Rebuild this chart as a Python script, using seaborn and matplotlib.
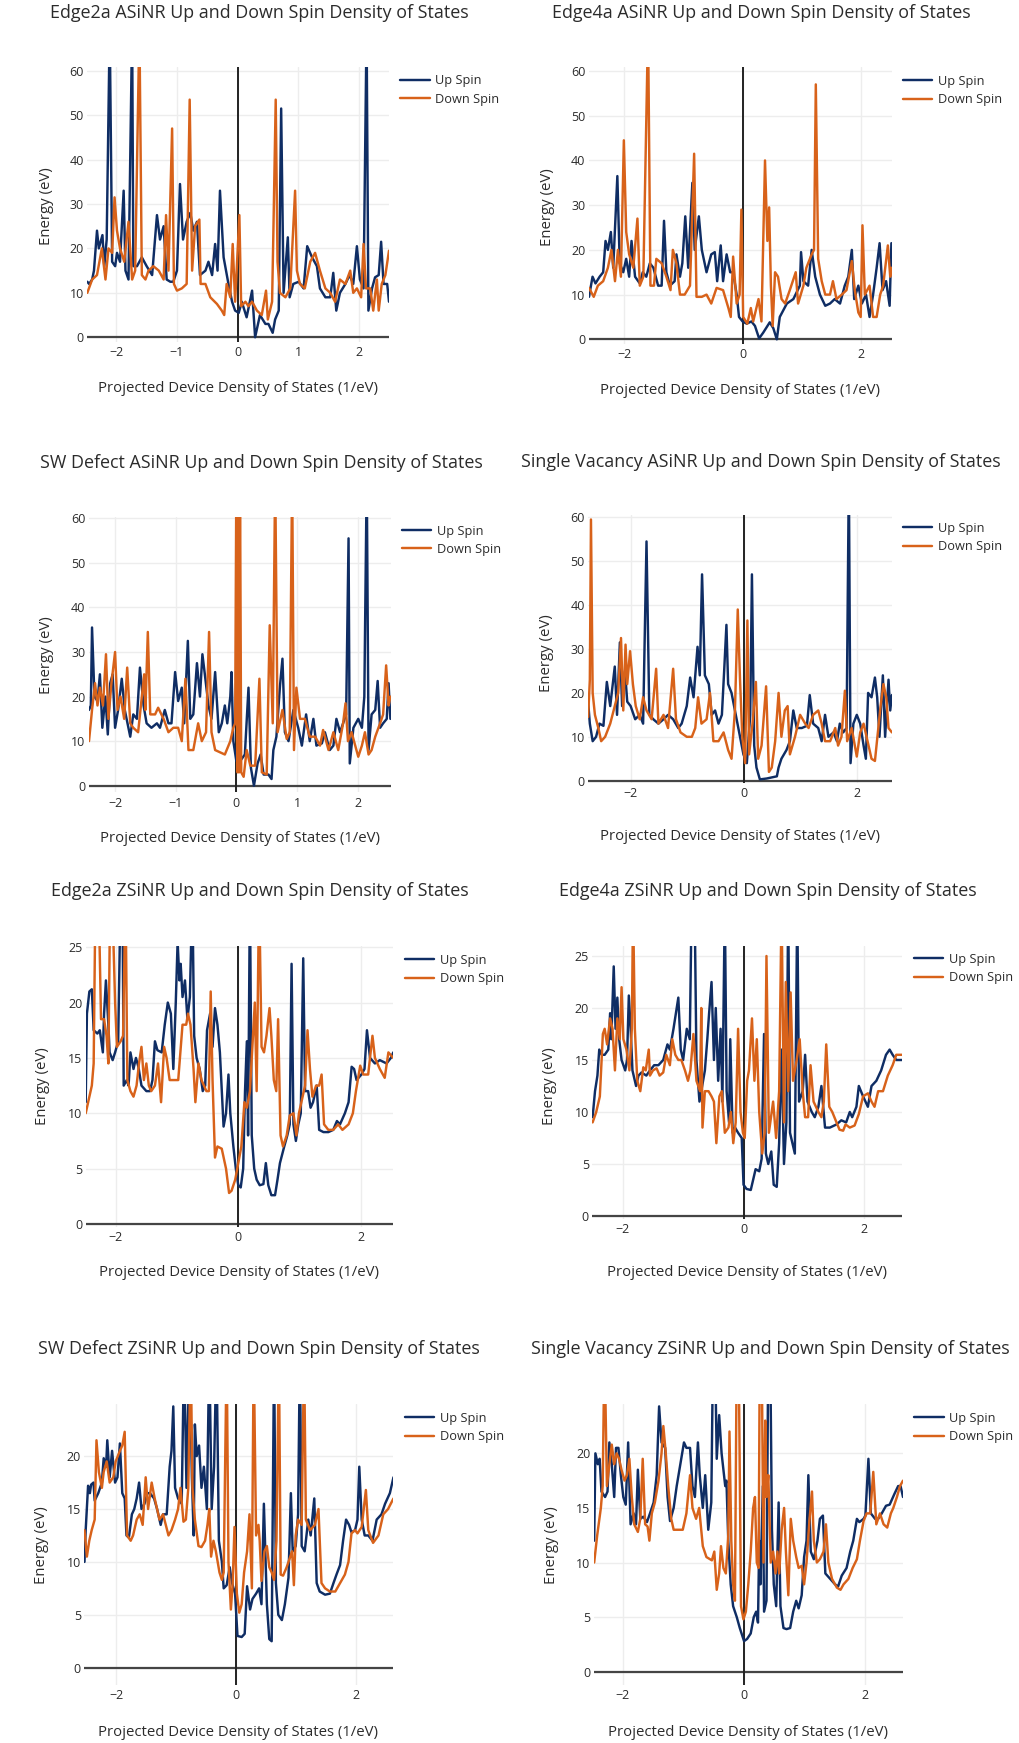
import matplotlib
matplotlib.use('Agg')
import matplotlib.pyplot as plt
import pandas as pd
import seaborn as sns

sns.set_style('white')
plt.rcParams['font.family'] = ['Open Sans', 'DejaVu Sans']
plt.rcParams['axes.unicode_minus'] = True

UP_COLOR = '#0f2d64'
DOWN_COLOR = '#d8621a'
TEXT = '#2b2b2b'
GRID = '#ededed'

titles = [
    'Edge2a ASiNR Up and Down Spin Density of States',
    'Edge4a ASiNR Up and Down Spin Density of States',
    'SW Defect ASiNR Up and Down Spin Density of States',
    'Single Vacancy ASiNR Up and Down Spin Density of States',
    'Edge2a ZSiNR Up and Down Spin Density of States',
    'Edge4a ZSiNR Up and Down Spin Density of States',
    'SW Defect ZSiNR Up and Down Spin Density of States',
    'Single Vacancy ZSiNR Up and Down Spin Density of States',
]
x_label = 'Projected Device Density of States (1/eV)'
y_label = 'Energy (eV)'
series_names = ['Up Spin', 'Down Spin']

# ---------------- data (x, y) ----------------
p1_up = [(-2.48,12.5),(-2.45,12),(-2.40,13),(-2.37,15),(-2.32,24),(-2.29,20),(-2.23,23),(-2.20,16),(-2.16,22),(-2.11,70),(-2.07,17),(-2.02,16),(-1.99,19),(-1.94,17),(-1.88,33),(-1.85,15),(-1.80,13),(-1.74,70),(-1.72,16),(-1.66,16),(-1.58,18),(-1.50,16),(-1.41,14),(-1.33,27.5),(-1.28,22),(-1.22,25),(-1.17,13),(-1.11,12.5),(-1.06,12.5),(-1.00,15),(-0.95,34.5),(-0.90,22),(-0.84,26),(-0.78,28),(-0.73,24),(-0.67,26),(-0.62,14),(-0.53,15),(-0.48,17),(-0.42,14),(-0.37,21),(-0.33,15),(-0.29,33),(-0.23,18),(-0.15,12),(-0.09,8),(-0.04,6),(0.02,5.5),(0.07,8),(0.15,4.5),(0.24,10.5),(0.29,0),(0.37,5),(0.46,3),(0.51,3),(0.58,1),(0.62,4),(0.68,6),(0.72,51.5),(0.76,10),(0.83,22.5),(0.86,9),(0.92,12),(1.01,12.5),(1.09,11),(1.15,20.5),(1.23,18),(1.31,16),(1.36,11),(1.45,9),(1.53,9),(1.58,14.5),(1.63,6),(1.69,10),(1.78,12),(1.85,14),(1.91,12),(1.97,20.5),(2.02,13),(2.08,11),(2.13,70),(2.16,6),(2.22,11),(2.27,13.5),(2.33,14),(2.37,21.5),(2.41,12),(2.47,12),(2.50,8)]
p1_down = [(-2.48,10),(-2.40,13),(-2.32,14),(-2.24,20),(-2.18,13),(-2.13,20),(-2.07,19),(-2.03,31.5),(-1.99,24),(-1.94,20),(-1.87,17),(-1.80,26),(-1.74,13),(-1.69,15),(-1.62,70),(-1.58,14),(-1.52,13),(-1.47,15),(-1.39,16),(-1.30,15),(-1.22,13),(-1.18,27.5),(-1.14,15),(-1.08,47),(-1.05,12),(-1.00,10.5),(-0.92,11),(-0.84,12),(-0.79,53.5),(-0.75,15),(-0.70,25),(-0.63,26.5),(-0.61,12),(-0.53,12),(-0.45,9),(-0.34,7.5),(-0.26,6),(-0.22,5),(-0.18,12),(-0.12,9),(-0.08,21),(-0.04,8),(0.03,27.5),(0.06,7),(0.13,8),(0.18,7),(0.24,8),(0.32,6),(0.40,5),(0.47,10.5),(0.50,4),(0.57,8),(0.59,22.5),(0.63,53.5),(0.66,17),(0.70,10),(0.79,9),(0.87,11),(0.95,33),(0.98,15),(1.03,12),(1.11,11),(1.20,17),(1.28,19),(1.36,15),(1.45,11),(1.53,10),(1.61,8),(1.69,13),(1.78,12),(1.86,15),(1.91,10),(1.97,11),(2.04,9),(2.08,21),(2.12,11),(2.19,11),(2.24,6),(2.30,13),(2.33,6),(2.38,12),(2.44,14),(2.50,19.5)]

p2_up = [(-2.60,9.5),(-2.54,14),(-2.49,12.5),(-2.42,14),(-2.36,15),(-2.32,22),(-2.28,20),(-2.23,24),(-2.19,16),(-2.12,36.5),(-2.08,17),(-2.02,15),(-1.97,18),(-1.92,14),(-1.88,22),(-1.82,14),(-1.74,12.5),(-1.69,15),(-1.63,14),(-1.57,17),(-1.51,16),(-1.43,12),(-1.37,12),(-1.33,26.5),(-1.29,15),(-1.23,12),(-1.15,13),(-1.12,19),(-1.06,14),(-1.02,17),(-0.97,27.5),(-0.92,16),(-0.85,35),(-0.81,20),(-0.74,27.5),(-0.69,20),(-0.61,15),(-0.53,19),(-0.47,19.5),(-0.43,13),(-0.37,21),(-0.33,13),(-0.27,19),(-0.21,15),(-0.16,15),(-0.10,10),(-0.06,5),(0.0,4),(0.07,3.5),(0.15,4),(0.21,3),(0.28,0.2),(0.35,1.5),(0.46,3.8),(0.52,2.5),(0.58,0),(0.63,5),(0.75,8),(0.86,9),(0.97,12),(0.99,19.5),(1.03,13),(1.11,12),(1.17,20),(1.23,14),(1.31,10),(1.40,7.5),(1.48,8),(1.56,9),(1.65,8),(1.73,12),(1.79,14),(1.85,20),(1.89,9),(1.96,12),(2.02,8),(2.09,10),(2.15,5),(2.21,10),(2.27,16),(2.32,21.5),(2.37,11),(2.43,13),(2.49,7.5),(2.52,21.5)]
p2_down = [(-2.60,11.5),(-2.52,9.5),(-2.45,12),(-2.36,13),(-2.28,16),(-2.22,20),(-2.16,13),(-2.11,20),(-2.06,14),(-2.01,44.5),(-1.97,24),(-1.92,19),(-1.85,16),(-1.78,27),(-1.74,12),(-1.68,14),(-1.60,70),(-1.56,12),(-1.50,12),(-1.46,18),(-1.37,17),(-1.29,14),(-1.22,11),(-1.18,20),(-1.12,17),(-1.06,10),(-0.98,10),(-0.89,12),(-0.82,41.5),(-0.78,9.5),(-0.69,9.5),(-0.61,10),(-0.53,8),(-0.44,11.5),(-0.33,11),(-0.24,7),(-0.20,5),(-0.16,18.5),(-0.10,8),(-0.05,10),(-0.02,29),(0.01,5),(0.08,3.5),(0.14,7),(0.18,4),(0.27,9),(0.32,4),(0.38,40),(0.42,22),(0.45,29.5),(0.48,12),(0.51,3),(0.55,15),(0.60,14),(0.66,9),(0.72,8),(0.80,11),(0.90,15),(0.94,8),(1.03,12),(1.08,16),(1.17,19),(1.21,20),(1.24,57),(1.28,18),(1.34,13),(1.40,10),(1.48,10),(1.53,13),(1.59,9),(1.68,10),(1.76,11),(1.85,17.5),(1.90,11),(1.96,6),(2.00,5),(2.03,25.5),(2.07,10),(2.15,12),(2.21,5),(2.27,5),(2.33,10),(2.38,12),(2.46,21),(2.50,14),(2.52,16)]

p3_up = [(-2.43,17),(-2.40,18),(-2.38,35.5),(-2.34,20),(-2.29,19),(-2.25,25),(-2.21,13),(-2.16,20),(-2.12,11.5),(-2.08,23),(-2.04,25),(-2.00,13),(-1.95,17),(-1.89,24),(-1.84,17),(-1.75,11),(-1.70,16),(-1.64,15),(-1.59,26.5),(-1.53,18),(-1.48,14),(-1.40,13),(-1.31,14),(-1.26,13),(-1.18,17),(-1.12,14),(-1.07,14),(-1.01,25.5),(-0.96,19),(-0.90,22),(-0.86,14),(-0.80,32.5),(-0.76,15),(-0.71,16),(-0.65,27.5),(-0.60,20),(-0.56,29.5),(-0.52,25),(-0.46,18),(-0.41,15),(-0.35,25.5),(-0.29,12),(-0.24,14),(-0.19,18),(-0.15,14),(-0.10,20),(-0.08,25.5),(-0.05,10),(0.0,5.5),(0.06,5.5),(0.14,7),(0.20,22),(0.24,4),(0.29,0),(0.35,5),(0.40,7),(0.45,2.5),(0.53,2.5),(0.58,1.5),(0.61,8),(0.66,11),(0.72,22.5),(0.76,28.5),(0.80,12),(0.86,10),(0.94,17),(1.02,13),(1.08,9),(1.15,16),(1.21,10),(1.27,15),(1.32,9),(1.41,9.5),(1.46,12),(1.54,8),(1.60,9),(1.65,15),(1.71,12),(1.76,14),(1.81,16),(1.85,55.5),(1.87,5),(1.93,13),(2.01,15),(2.07,13),(2.11,20),(2.15,70),(2.18,8),(2.23,16),(2.29,17),(2.33,23.5),(2.37,13),(2.42,14),(2.48,15),(2.51,23),(2.54,15)]
p3_down = [(-2.43,10),(-2.38,17),(-2.33,23),(-2.29,18),(-2.25,22),(-2.20,18),(-2.15,29.5),(-2.11,15),(-2.06,23),(-2.00,30),(-1.96,17),(-1.91,20),(-1.85,15),(-1.80,26.5),(-1.75,14),(-1.70,13),(-1.62,12),(-1.52,25),(-1.50,17),(-1.46,34.5),(-1.42,16),(-1.34,16),(-1.29,17.5),(-1.20,15),(-1.12,12),(-1.04,13),(-0.96,13),(-0.90,10),(-0.84,24),(-0.79,8),(-0.71,8),(-0.63,14),(-0.57,10),(-0.50,12),(-0.45,34.5),(-0.41,12),(-0.35,8),(-0.27,7.5),(-0.19,7),(-0.10,10),(-0.05,13),(-0.02,14),(0.00,70),(0.02,3),(0.03,70),(0.045,3),(0.06,70),(0.08,3),(0.12,2),(0.17,8),(0.23,4.5),(0.31,4.5),(0.38,24),(0.42,3),(0.50,2.5),(0.55,36),(0.60,14),(0.64,70),(0.68,12),(0.76,17),(0.83,10.5),(0.88,12),(0.92,70),(0.95,8),(0.99,22),(1.05,15),(1.13,15),(1.21,11),(1.30,11),(1.38,9),(1.43,12.5),(1.52,8),(1.60,12),(1.68,8),(1.76,14),(1.80,18.5),(1.84,10),(1.90,12),(1.96,9),(2.01,6.5),(2.07,9),(2.12,12),(2.18,7),(2.23,8),(2.29,11),(2.37,14),(2.42,16),(2.47,27),(2.51,18),(2.54,20)]

p4_up = [(-2.75,18),(-2.72,13),(-2.67,9),(-2.61,10),(-2.55,13),(-2.48,12.5),(-2.42,22.5),(-2.36,17),(-2.28,26),(-2.24,15),(-2.19,31.5),(-2.15,17),(-2.10,25),(-2.06,18),(-2.00,17),(-1.92,14),(-1.84,15),(-1.78,13),(-1.72,54.5),(-1.67,15),(-1.60,14),(-1.51,13),(-1.42,14),(-1.34,15),(-1.25,14),(-1.16,12),(-1.10,13),(-1.01,17),(-0.95,23.5),(-0.89,19),(-0.82,30.5),(-0.78,24),(-0.74,47),(-0.69,24),(-0.62,22),(-0.57,15),(-0.51,16),(-0.45,13),(-0.39,15),(-0.35,25),(-0.31,35.5),(-0.28,22),(-0.22,20),(-0.13,14),(-0.07,10),(-0.01,6),(0.05,4),(0.11,15),(0.14,47),(0.18,8),(0.22,3),(0.28,0.3),(0.40,0.5),(0.58,1),(0.61,3),(0.66,5),(0.75,7),(0.81,9),(0.87,16),(0.93,12),(1.02,12),(1.11,12.5),(1.16,19.5),(1.22,13),(1.31,12),(1.37,9),(1.43,15),(1.49,10),(1.58,11),(1.64,9),(1.69,13),(1.75,11),(1.81,12),(1.85,70),(1.88,4),(1.93,13),(1.99,15),(2.05,13),(2.11,8),(2.15,5),(2.19,20),(2.25,19),(2.31,23.5),(2.35,19),(2.39,10),(2.45,24),(2.49,10),(2.55,23),(2.58,16),(2.61,19.5)]
p4_down = [(-2.75,14.5),(-2.72,23),(-2.70,59.5),(-2.67,20),(-2.63,15),(-2.57,12),(-2.52,9),(-2.45,10),(-2.36,13),(-2.28,17),(-2.22,20),(-2.17,32.5),(-2.13,16),(-2.09,31),(-2.06,22),(-2.01,29.5),(-1.96,22),(-1.91,17),(-1.84,14),(-1.78,19),(-1.72,16),(-1.63,14),(-1.55,25.5),(-1.51,13),(-1.42,15),(-1.34,12),(-1.25,25.5),(-1.20,14),(-1.12,11),(-1.01,10),(-0.92,10),(-0.86,12),(-0.81,19),(-0.75,13),(-0.66,14),(-0.60,20),(-0.54,9),(-0.45,9),(-0.36,11),(-0.28,7),(-0.22,5),(-0.16,16),(-0.11,39),(-0.07,23),(-0.03,10),(0.02,4),(0.06,36.5),(0.09,6),(0.15,13),(0.21,22.5),(0.25,5),(0.31,8),(0.39,21.5),(0.44,2),(0.49,3),(0.55,9),(0.61,20),(0.66,10),(0.72,16),(0.77,17),(0.81,6),(0.90,10),(0.99,15),(1.08,13),(1.14,12),(1.22,15),(1.31,16),(1.37,13),(1.43,9),(1.52,9),(1.61,12),(1.66,8),(1.72,10),(1.78,20.5),(1.82,9),(1.90,12),(1.99,5.5),(2.05,11),(2.11,13),(2.18,9),(2.25,5),(2.31,4.5),(2.37,12),(2.41,17),(2.46,22),(2.51,19),(2.55,12),(2.61,11)]

p5_up = [(-2.49,11),(-2.47,19),(-2.43,21),(-2.39,21.2),(-2.36,17.5),(-2.30,17.2),(-2.26,17.5),(-2.21,15.5),(-2.19,19),(-2.16,22),(-2.12,18),(-2.10,15.5),(-2.05,14.8),(-2.01,15.5),(-1.96,16.5),(-1.92,30),(-1.89,30),(-1.87,12.5),(-1.82,13),(-1.79,12.5),(-1.76,15.5),(-1.71,14),(-1.67,15),(-1.63,14.2),(-1.58,12.5),(-1.50,12),(-1.44,12),(-1.40,13),(-1.36,16.5),(-1.32,15.7),(-1.25,15.5),(-1.20,18),(-1.15,20),(-1.10,19),(-1.06,14),(-1.02,20),(-0.99,25.5),(-0.96,22),(-0.94,23.5),(-0.91,20.5),(-0.87,22),(-0.83,18.5),(-0.79,20.5),(-0.75,30),(-0.72,17),(-0.68,15),(-0.63,14),(-0.58,12),(-0.54,12.5),(-0.51,17.5),(-0.46,19),(-0.42,16),(-0.38,19.5),(-0.34,18),(-0.30,15.5),(-0.24,8.8),(-0.20,10),(-0.16,13.5),(-0.13,10),(-0.08,7),(-0.04,5),(0.0,3.5),(0.04,3.3),(0.08,5),(0.11,12),(0.14,16.5),(0.16,8),(0.19,30),(0.22,8),(0.26,5),(0.30,4),(0.35,3.5),(0.41,3.6),(0.45,5.5),(0.49,3.5),(0.54,2.6),(0.60,2.6),(0.64,4),(0.68,5.5),(0.75,7),(0.80,8),(0.84,9),(0.87,23.5),(0.90,9),(0.94,7.5),(0.98,9),(1.02,10),(1.06,24),(1.09,12),(1.14,12),(1.18,10.5),(1.22,11),(1.28,12.5),(1.32,8.5),(1.39,8.3),(1.47,8.3),(1.55,8.5),(1.61,9.3),(1.66,9),(1.74,10),(1.80,11),(1.85,14.2),(1.89,14),(1.93,13),(2.01,13.5),(2.06,14),(2.10,17.5),(2.15,15),(2.23,14.5),(2.31,14.8),(2.42,14.5),(2.49,15),(2.53,15.5)]
p5_down = [(-2.49,10),(-2.45,11),(-2.39,12.5),(-2.36,14.5),(-2.33,30),(-2.28,30),(-2.24,18.5),(-2.19,18.5),(-2.15,17),(-2.12,14.5),(-2.09,30),(-2.06,30),(-2.01,20),(-1.98,16),(-1.92,16.5),(-1.88,17),(-1.84,30),(-1.81,13),(-1.76,12),(-1.71,11.5),(-1.66,12.5),(-1.62,14.5),(-1.58,16),(-1.54,13),(-1.50,14.5),(-1.46,12.5),(-1.42,12),(-1.36,12.5),(-1.31,14.5),(-1.26,11),(-1.21,16),(-1.17,15),(-1.12,13),(-1.03,13),(-0.98,13),(-0.91,18),(-0.85,18),(-0.82,19),(-0.78,18),(-0.73,14),(-0.70,11),(-0.65,14.5),(-0.60,13),(-0.56,12.5),(-0.52,12),(-0.48,12),(-0.45,21),(-0.42,13),(-0.38,6),(-0.34,7),(-0.27,6.8),(-0.20,5),(-0.15,2.8),(-0.11,3),(-0.05,4),(0.0,5.5),(0.05,7),(0.10,11),(0.14,10.5),(0.19,12),(0.23,16),(0.27,20),(0.30,12),(0.34,30),(0.38,16),(0.42,15.5),(0.46,17),(0.51,19.5),(0.54,17),(0.58,13),(0.62,12),(0.65,18.5),(0.69,8),(0.73,7),(0.79,8),(0.84,9.8),(0.90,10),(0.95,8),(0.99,10),(1.03,11),(1.09,12.5),(1.13,17.5),(1.17,14),(1.21,11.5),(1.27,12.5),(1.32,12.5),(1.36,13.5),(1.40,9),(1.47,8.5),(1.55,8.5),(1.63,9),(1.70,8.5),(1.80,9),(1.87,10),(1.92,12),(1.99,14.3),(2.04,13.5),(2.12,13.5),(2.19,17),(2.23,15),(2.31,14),(2.39,13.2),(2.45,15.5),(2.53,15)]

p6_up = [(-2.50,9.5),(-2.46,12),(-2.42,13.5),(-2.39,16),(-2.35,15.5),(-2.30,15.5),(-2.24,16),(-2.21,19.5),(-2.19,17),(-2.15,24),(-2.12,18),(-2.09,21),(-2.06,17),(-2.02,15),(-1.96,14),(-1.93,15),(-1.90,21.2),(-1.87,18),(-1.84,14),(-1.78,12.5),(-1.74,13.5),(-1.69,13.8),(-1.61,13.5),(-1.55,14),(-1.48,14.5),(-1.41,14.5),(-1.33,15),(-1.26,16.5),(-1.22,16),(-1.16,18),(-1.12,19.5),(-1.08,21),(-1.04,16),(-1.00,15),(-0.94,18),(-0.89,17),(-0.86,30),(-0.81,30),(-0.78,15),(-0.73,11),(-0.70,12),(-0.64,14),(-0.60,17),(-0.57,19.5),(-0.53,22.5),(-0.49,15),(-0.46,20),(-0.42,13),(-0.38,18),(-0.35,11),(-0.31,30),(-0.28,12),(-0.24,9),(-0.22,17),(-0.18,8),(-0.14,8.5),(-0.09,8),(-0.03,7.5),(0.0,3),(0.05,2.6),(0.12,2.5),(0.16,3.5),(0.20,4.5),(0.26,4.3),(0.30,5.5),(0.34,17.5),(0.37,6),(0.41,5),(0.46,6.2),(0.50,3),(0.55,2.8),(0.59,7),(0.63,16),(0.67,5),(0.71,9),(0.74,30),(0.77,8),(0.81,7),(0.85,6),(0.89,30),(0.92,11),(0.98,12),(1.02,15.5),(1.06,11),(1.13,10),(1.18,9.5),(1.24,10.5),(1.29,12.5),(1.35,8.5),(1.43,8.5),(1.54,8.8),(1.62,9.2),(1.70,9.0),(1.76,10),(1.80,9.5),(1.87,10.5),(1.91,12.5),(1.98,11.5),(2.06,10.5),(2.12,12.5),(2.20,13),(2.28,14),(2.36,15.5),(2.42,16),(2.47,15.5),(2.53,15),(2.63,15)]
p6_down = [(-2.50,9),(-2.44,10),(-2.38,11.5),(-2.33,17.5),(-2.30,18),(-2.26,16.5),(-2.21,19),(-2.17,18),(-2.13,14),(-2.09,19),(-2.05,17),(-2.02,22),(-1.99,17),(-1.94,16),(-1.89,14),(-1.85,18),(-1.83,30),(-1.80,18),(-1.76,13),(-1.71,12),(-1.66,14.3),(-1.62,14),(-1.57,16),(-1.55,13.5),(-1.50,14),(-1.44,14.2),(-1.39,13.5),(-1.33,13.8),(-1.28,15.5),(-1.22,14.5),(-1.18,17),(-1.13,15.5),(-1.08,15),(-1.03,15),(-0.97,14),(-0.92,13),(-0.88,14),(-0.83,17.5),(-0.78,13),(-0.72,12),(-0.70,20),(-0.68,8.5),(-0.64,12),(-0.58,12),(-0.53,11.5),(-0.49,11),(-0.45,7),(-0.40,11.5),(-0.36,12),(-0.31,8),(-0.25,8.5),(-0.21,10),(-0.17,7),(-0.13,9),(-0.09,18),(-0.05,10),(-0.01,8),(0.02,7.5),(0.06,13),(0.09,14),(0.14,19),(0.18,13),(0.22,17),(0.26,10),(0.31,6),(0.35,8),(0.38,25),(0.42,8),(0.49,11),(0.54,7.5),(0.59,12),(0.63,30),(0.67,9),(0.70,22.5),(0.74,12),(0.78,21.5),(0.82,13),(0.88,15),(0.93,17),(0.98,12),(1.02,9.5),(1.07,9.5),(1.11,14.5),(1.16,11),(1.24,10),(1.29,9.5),(1.33,11),(1.37,16.5),(1.42,10.5),(1.47,10),(1.54,9),(1.59,8.3),(1.65,8.2),(1.69,8.8),(1.76,8.5),(1.84,8.7),(1.91,9.8),(1.98,11.5),(2.06,11.8),(2.12,11),(2.17,10.5),(2.23,12),(2.31,12),(2.39,13.5),(2.47,14.5),(2.53,15.5),(2.63,15.5)]

p7_up = [(-2.53,10),(-2.51,13),(-2.47,17.2),(-2.44,16.5),(-2.42,17.3),(-2.38,17.5),(-2.36,15.8),(-2.30,16.5),(-2.24,17.5),(-2.21,19.8),(-2.17,19),(-2.15,21.5),(-2.11,18),(-2.07,20.5),(-2.02,17.5),(-1.98,18),(-1.94,21.2),(-1.90,16.5),(-1.86,16),(-1.83,12.5),(-1.79,12.3),(-1.74,14.5),(-1.70,15),(-1.66,16),(-1.62,17.5),(-1.58,15),(-1.53,15.5),(-1.48,16.5),(-1.44,16.5),(-1.37,16),(-1.32,15),(-1.26,13.5),(-1.22,14.5),(-1.16,14.5),(-1.11,19),(-1.08,20.5),(-1.05,24.7),(-1.02,17),(-0.97,16),(-0.91,15.5),(-0.87,30),(-0.83,17),(-0.78,30),(-0.74,18),(-0.71,12.5),(-0.69,23),(-0.66,20),(-0.62,21),(-0.58,17),(-0.54,19),(-0.49,15),(-0.45,30),(-0.41,15),(-0.37,19),(-0.33,30),(-0.29,12),(-0.24,10),(-0.21,7.5),(-0.16,7.8),(-0.11,9.5),(-0.07,8),(-0.02,7),(0.02,3),(0.09,2.9),(0.14,3.2),(0.18,7.7),(0.23,5.5),(0.27,6.5),(0.33,7),(0.38,7.5),(0.42,6),(0.46,15.5),(0.51,6),(0.55,2.7),(0.59,2.5),(0.63,30),(0.66,8),(0.70,5),(0.76,4.5),(0.81,6),(0.87,8.5),(0.91,16.5),(0.94,11),(0.99,11.5),(1.03,14.5),(1.06,30),(1.09,11.5),(1.14,11),(1.20,14),(1.24,12.5),(1.30,16),(1.34,8),(1.39,7.2),(1.48,6.9),(1.56,7),(1.62,8),(1.67,8.8),(1.73,9.7),(1.78,12),(1.83,14),(1.88,13.5),(1.92,12.8),(1.98,13),(2.02,14),(2.05,19),(2.09,14),(2.14,12.5),(2.20,12.5),(2.27,12),(2.34,14),(2.42,14.5),(2.48,15.5),(2.56,16.5),(2.62,18)]
p7_down = [(-2.53,13),(-2.49,10.5),(-2.45,12),(-2.41,13),(-2.36,14),(-2.33,21.5),(-2.29,18.5),(-2.24,17),(-2.21,18.5),(-2.16,19.5),(-2.11,17.5),(-2.05,18),(-2.01,19.5),(-1.94,20.5),(-1.90,21),(-1.86,22.3),(-1.82,12.5),(-1.76,12),(-1.72,12.5),(-1.66,14),(-1.61,14.5),(-1.56,13.5),(-1.51,18),(-1.47,15),(-1.41,17.5),(-1.36,16),(-1.28,14),(-1.22,14.5),(-1.13,12.5),(-1.08,13),(-1.02,14),(-0.97,15),(-0.93,17),(-0.88,13.8),(-0.84,14),(-0.80,17),(-0.76,30),(-0.73,17),(-0.69,14),(-0.63,11.5),(-0.58,11.4),(-0.52,12),(-0.48,13.5),(-0.45,15),(-0.42,10.5),(-0.38,12),(-0.34,11),(-0.28,9),(-0.24,8.3),(-0.21,9),(-0.16,30),(-0.13,10),(-0.09,5.5),(-0.06,8),(-0.03,13.3),(0.01,7),(0.05,5.2),(0.09,6),(0.13,9),(0.18,11),(0.22,14.5),(0.26,7.5),(0.29,30),(0.33,12.5),(0.37,13.5),(0.39,12),(0.42,8.2),(0.47,11),(0.51,11.5),(0.55,9.5),(0.59,9),(0.63,8.3),(0.67,12),(0.71,30),(0.74,8.8),(0.78,8.7),(0.84,9.5),(0.90,10.5),(0.93,11),(0.96,7.8),(0.99,12.5),(1.03,14),(1.09,13.5),(1.13,30),(1.16,14),(1.23,13),(1.31,13.5),(1.37,15),(1.42,8),(1.48,7.5),(1.56,7.2),(1.65,7.2),(1.73,8),(1.81,8.8),(1.87,10),(1.92,12.7),(1.98,13),(2.02,12.7),(2.09,13.3),(2.16,16.8),(2.20,13),(2.28,11.8),(2.37,12.5),(2.45,14.5),(2.53,15),(2.62,16)]

p8_up = [(-2.47,12),(-2.45,20),(-2.41,19),(-2.38,19.5),(-2.35,16.5),(-2.29,16),(-2.25,16.5),(-2.22,21),(-2.18,19),(-2.14,16),(-2.11,20.5),(-2.07,20.5),(-2.03,18),(-1.99,16),(-1.95,15.3),(-1.91,21),(-1.87,13.5),(-1.82,14.5),(-1.78,13.5),(-1.75,18.5),(-1.71,14),(-1.66,14.2),(-1.60,13.7),(-1.55,14.5),(-1.49,15.5),(-1.44,18),(-1.40,24.3),(-1.36,21),(-1.30,20.5),(-1.26,16),(-1.22,13.8),(-1.16,15),(-1.11,17),(-1.05,19),(-0.99,21),(-0.95,20.5),(-0.89,20.5),(-0.85,17),(-0.81,16),(-0.76,21),(-0.73,18),(-0.68,15),(-0.64,18),(-0.59,13),(-0.54,15.5),(-0.51,30),(-0.48,30),(-0.45,19.5),(-0.41,23.5),(-0.37,20),(-0.31,17),(-0.29,17.5),(-0.26,12),(-0.22,8),(-0.18,6),(-0.12,5),(-0.07,4),(0.0,2.8),(0.05,3.0),(0.11,3.5),(0.16,5),(0.20,5.5),(0.23,4.5),(0.25,12),(0.27,8),(0.31,17),(0.33,5.5),(0.37,6.5),(0.40,30),(0.43,30),(0.46,13),(0.49,8),(0.53,6),(0.57,15.5),(0.60,6),(0.65,4),(0.70,3.9),(0.76,4),(0.81,5.5),(0.86,6.5),(0.90,5.8),(0.95,7),(0.99,10.5),(1.03,12),(1.06,18),(1.10,11),(1.15,10.3),(1.21,12),(1.25,14),(1.30,14.3),(1.34,9),(1.42,8.5),(1.50,8),(1.55,7.8),(1.61,8.8),(1.69,9.5),(1.75,11),(1.80,12),(1.86,14),(1.90,13.7),(1.97,14),(2.00,14.3),(2.05,19.5),(2.09,14.5),(2.16,14),(2.21,14),(2.27,14.5),(2.34,15.2),(2.40,15.3),(2.48,16.3),(2.54,17),(2.58,17),(2.62,16)]
p8_down = [(-2.47,10),(-2.42,12.5),(-2.36,15),(-2.33,17),(-2.30,30),(-2.26,17),(-2.22,19),(-2.18,20.8),(-2.14,19),(-2.10,20),(-2.06,19.5),(-2.02,18.5),(-1.97,17.5),(-1.93,18),(-1.89,19.5),(-1.85,16),(-1.81,13.5),(-1.75,12.8),(-1.71,14),(-1.67,19.5),(-1.63,13.5),(-1.59,13.3),(-1.56,12),(-1.52,14.5),(-1.47,15.5),(-1.41,17.5),(-1.36,20),(-1.33,22.5),(-1.29,20),(-1.25,17),(-1.20,14),(-1.16,13),(-1.08,13),(-1.01,13),(-0.95,14.5),(-0.89,18),(-0.85,15),(-0.79,14),(-0.74,15),(-0.68,11.5),(-0.62,10.5),(-0.53,10.2),(-0.49,11),(-0.45,7.5),(-0.41,9),(-0.38,11.5),(-0.34,9.5),(-0.30,9),(-0.26,12.5),(-0.24,22),(-0.21,12),(-0.18,8),(-0.15,6.5),(-0.12,30),(-0.09,30),(-0.05,6),(-0.01,4.8),(0.03,5.5),(0.07,8),(0.11,11),(0.15,15),(0.18,16),(0.21,10),(0.24,9.5),(0.26,30),(0.29,30),(0.32,10),(0.35,23),(0.37,16),(0.40,18),(0.44,10),(0.48,11),(0.52,9),(0.55,11),(0.58,9),(0.62,13),(0.66,15),(0.69,11),(0.73,7),(0.77,14),(0.81,12),(0.86,10.5),(0.90,9.5),(0.95,9.7),(0.99,8),(1.03,10),(1.08,14),(1.12,16.5),(1.15,12),(1.20,10),(1.25,10.3),(1.31,11),(1.35,13.5),(1.39,10),(1.45,8.5),(1.53,7.7),(1.59,7.5),(1.64,8),(1.72,8.5),(1.79,9.5),(1.86,10.3),(1.91,12),(1.97,13.8),(2.02,14.5),(2.08,14.5),(2.13,18.3),(2.18,13.5),(2.24,14.5),(2.30,13.5),(2.36,13.2),(2.42,14.5),(2.46,15),(2.52,16),(2.57,17),(2.62,17.5)]

curves = [(p1_up, p1_down), (p2_up, p2_down), (p3_up, p3_down), (p4_up, p4_down),
          (p5_up, p5_down), (p6_up, p6_down), (p7_up, p7_down), (p8_up, p8_down)]

# ---------------- layout (pixels of the 1020x1743 canvas) ----------------
W, H = 1020, 1743
A_Y = [0, 10, 20, 30, 40, 50, 60]
layout = [
    dict(rect=(87.3, 67.2, 389.0, 341.7), xlim=(-2.48, 2.50), ylim=(-1.0, 60.8), xt=[-2, -1, 0, 1, 2], yt=A_Y,
         title=(259, 13), xl=(238, 388), yl=(47, 206)),
    dict(rect=(589.0, 67.4, 891.7, 343.8), xlim=(-2.60, 2.525), ylim=(-1.0, 60.8), xt=[-2, 0, 2], yt=A_Y,
         title=(761, 13), xl=(740, 391), yl=(548, 207)),
    dict(rect=(89.0, 517.4, 390.7, 792.4), xlim=(-2.43, 2.545), ylim=(-1.5, 60.2), xt=[-2, -1, 0, 1, 2], yt=A_Y,
         title=(261, 463), xl=(240, 839), yl=(47, 655)),
    dict(rect=(588.3, 515.1, 891.7, 782.9), xlim=(-2.747, 2.606), ylim=(-0.5, 60.5), xt=[-2, 0, 2], yt=A_Y,
         title=(761, 462), xl=(740, 837), yl=(547, 653)),
    dict(rect=(85.7, 946.1, 393.3, 1227.3), xlim=(-2.49, 2.53), ylim=(-0.3, 25.1), xt=[-2, 0, 2], yt=[0, 5, 10, 15, 20, 25],
         title=(260, 891), xl=(239, 1273), yl=(43, 1086)),
    dict(rect=(592.3, 945.6, 902.3, 1219.1), xlim=(-2.505, 2.63), ylim=(-0.3, 26.0), xt=[-2, 0, 2], yt=[0, 5, 10, 15, 20, 25],
         title=(768, 891), xl=(747, 1273), yl=(550, 1086)),
    dict(rect=(84.3, 1404.3, 393.3, 1684.6), xlim=(-2.533, 2.617), ylim=(-1.6, 24.9), xt=[-2, 0, 2], yt=[0, 5, 10, 15, 20],
         title=(259, 1349), xl=(238.5, 1733), yl=(42, 1545)),
    dict(rect=(594.0, 1404.2, 902.7, 1684.8), xlim=(-2.473, 2.615), ylim=(-1.2, 24.5), xt=[-2, 0, 2], yt=[0, 5, 10, 15, 20],
         title=(770, 1349), xl=(748.5, 1733), yl=(552, 1545)),
]

fig = plt.figure(figsize=(W / 100, H / 100), dpi=100)
fig.patch.set_facecolor('white')

for title, (up, down), L in zip(titles, curves, layout):
    x0, y0, x1, y1 = L['rect']
    ax = fig.add_axes([x0 / W, 1 - y1 / H, (x1 - x0) / W, (y1 - y0) / H])
    df_up = pd.DataFrame(up, columns=['x', 'y'])
    df_dn = pd.DataFrame(down, columns=['x', 'y'])
    sns.lineplot(data=df_up, x='x', y='y', ax=ax, color=UP_COLOR, linewidth=1.75,
                 estimator=None, sort=False, label=series_names[0], zorder=3)
    sns.lineplot(data=df_dn, x='x', y='y', ax=ax, color=DOWN_COLOR, linewidth=1.75,
                 estimator=None, sort=False, label=series_names[1], zorder=4)
    ax.set_xlim(*L['xlim'])
    ax.set_ylim(*L['ylim'])
    ax.set_xticks(L['xt'])
    ax.set_yticks(L['yt'])
    ax.set_xticklabels([f'{t:g}'.replace('-', '\u2212') for t in L['xt']])
    ax.set_yticklabels([f'{t:g}' for t in L['yt']])
    ax.grid(True, color=GRID, linewidth=1.0, zorder=0)
    ax.set_axisbelow(True)
    for s in ax.spines.values():
        s.set_visible(False)
    ax.axhline(0, color='#444444', linewidth=1.6, zorder=2)
    ax.axvline(0, color='#222222', linewidth=1.4, zorder=2)
    ax.tick_params(axis='both', length=0, labelsize=9.0, colors=TEXT)
    ax.tick_params(axis='x', pad=3)
    ax.tick_params(axis='y', pad=2.5)
    ax.set_xlabel('')
    ax.set_ylabel('')
    ax.legend(loc='center left', bbox_to_anchor=(1.037, 0.917), frameon=False, borderpad=0,
              handlelength=2.3, handletextpad=0.45, labelspacing=0.42, fontsize=9.2,
              labelcolor=TEXT, borderaxespad=0)
    tx, ty = L['title']
    fig.text(tx / W, 1 - ty / H, title, ha='center', va='center', fontsize=12.85, color=TEXT)
    lx, ly = L['xl']
    fig.text(lx / W, 1 - ly / H, x_label, ha='center', va='center', fontsize=10.7, color=TEXT)
    yx, yy = L['yl']
    fig.text(yx / W, 1 - yy / H, y_label, ha='center', va='center', rotation=90, fontsize=10.7, color=TEXT)

fig.savefig('out.png', dpi=100, facecolor='white')
